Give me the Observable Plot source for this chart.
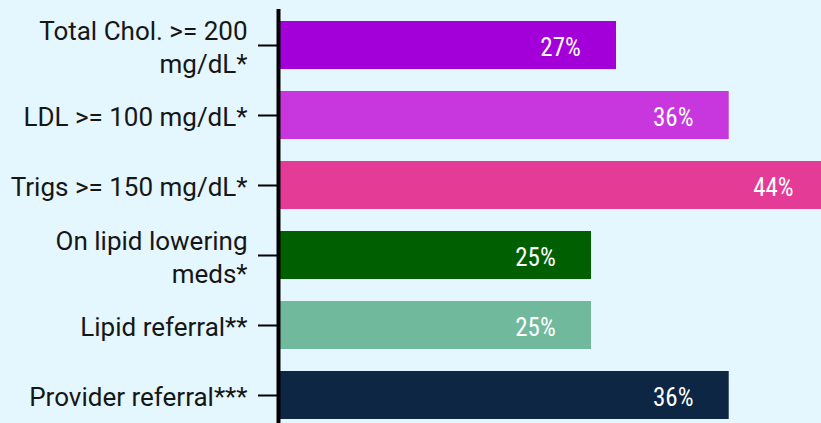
<!DOCTYPE html>
<html>
<head>
<meta charset="utf-8">
<script src="https://cdn.jsdelivr.net/npm/d3@7"></script>
<script src="https://cdn.jsdelivr.net/npm/@observablehq/plot@0.6"></script>
<style>
  html, body { margin: 0; padding: 0; background: #e4f6fe; overflow: hidden; }
  #chart svg { display: block; }
</style>
</head>
<body>
<div id="chart"></div>
<script>
const categories = [
  "Total Chol. >= 200 mg/dL*",
  "LDL >= 100 mg/dL*",
  "Trigs >= 150 mg/dL*",
  "On lipid lowering meds*",
  "Lipid referral**",
  "Provider referral***"
];
const tickLabels = [
  "Total Chol. >= 200\nmg/dL*",
  "LDL >= 100 mg/dL*",
  "Trigs >= 150 mg/dL*",
  "On lipid lowering\nmeds*",
  "Lipid referral**",
  "Provider referral***"
];
const values = [27, 36, 44, 25, 25, 36];
const colors = ["#a300d9", "#c837dd", "#e43b97", "#005f00", "#70b99c", "#0c2644"];

const data = categories.map((c, i) => ({category: c, value: values[i], color: colors[i], label: tickLabels[i]}));
const labelOf = new Map(data.map(d => [d.category, d.label]));

const chart = Plot.plot({
  width: 821,
  height: 423,
  marginLeft: 278,
  marginRight: 0,
  marginTop: 9,
  marginBottom: 0,
  style: {background: "#e4f6fe", fontFamily: "Roboto, sans-serif", fontSize: "26px", color: "#161616"},
  x: {domain: [0, 50], range: [278, 278 + 12.52 * 50], axis: null},
  y: {domain: categories, range: [9, 430.2], paddingInner: 0.316, paddingOuter: 0.158, align: 0.5, label: null},
  marks: [
    Plot.barX(data, {x: "value", y: "category", fill: "color", clip: true}),
    Plot.axisY({
      tickSize: 20,
      tickPadding: 11,
      strokeWidth: 2,
      stroke: "#000",
      fill: "#161616",
      fontSize: 26,
      lineHeight: 1.28,
      tickFormat: d => labelOf.get(d),
      label: null
    }),
    Plot.ruleX([0], {stroke: "#000", strokeWidth: 4}),
    Plot.text(data, {
      x: "value",
      y: "category",
      text: d => `${d.value}%`,
      dx: -56,
      dy: 2,
      textAnchor: "middle",
      fill: "white",
      fontSize: 25,
      fontFamily: "'Roboto Condensed', 'Liberation Sans Narrow', 'DejaVu Sans Condensed', sans-serif",
      fontStretch: "condensed"
    })
  ]
});
document.getElementById("chart").appendChild(chart);
</script>
</body>
</html>
